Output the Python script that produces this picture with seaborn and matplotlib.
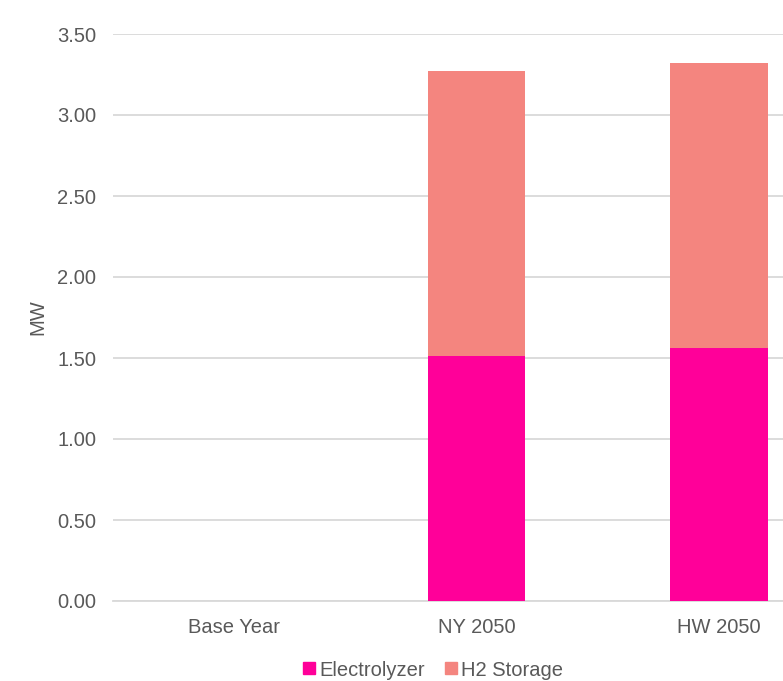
import matplotlib
matplotlib.use("Agg")
import matplotlib.pyplot as plt
from matplotlib.lines import Line2D
import seaborn as sns
import pandas as pd

categories = ["Base Year", "NY 2050", "HW 2050"]
electrolyzer = [0.0, 1.51, 1.56]
h2_storage = [0.0, 1.76, 1.76]
yticks = [0.0, 0.5, 1.0, 1.5, 2.0, 2.5, 3.0, 3.5]

c_elec = "#FF0099"
c_stor = "#F4857F"
txt = "#595959"
grid = "#D9D9D9"

sns.set_theme(style="white")
plt.rcParams["font.family"] = ["Liberation Sans", "DejaVu Sans"]

df = pd.DataFrame({
    "cat": categories,
    "elec": electrolyzer,
    "total": [e + s for e, s in zip(electrolyzer, h2_storage)],
})

fig = plt.figure(figsize=(7.83, 6.81), dpi=100)
ax = fig.add_axes([113 / 783, 1 - 601 / 681, 727 / 783, 567 / 681])

sns.barplot(data=df, x="cat", y="total", color=c_stor, width=0.404,
            saturation=1, ax=ax, zorder=2, linewidth=0)
sns.barplot(data=df, x="cat", y="elec", color=c_elec, width=0.404,
            saturation=1, ax=ax, zorder=3, linewidth=0)

ax.set_xlim(-0.5, 2.5)
ax.set_ylim(0, 3.5)
ax.set_yticks(yticks)
ax.set_yticklabels([f"{v:.2f}" for v in yticks])
ax.yaxis.grid(True, color=grid, linewidth=1.3, zorder=0)
ax.set_axisbelow(True)
for s in ["top", "right", "left"]:
    ax.spines[s].set_visible(False)
ax.spines["bottom"].set_color(grid)
ax.spines["bottom"].set_linewidth(1.3)
ax.tick_params(axis="both", length=0, labelsize=14.5, labelcolor=txt)
ax.tick_params(axis="y", pad=12)
ax.tick_params(axis="x", pad=12.5)
ax.set_xlabel("")
ax.set_ylabel("MW", fontsize=14.5, color=txt, labelpad=7)

handles = [
    Line2D([], [], marker="s", linestyle="none", markersize=9, color=c_elec, label="Electrolyzer"),
    Line2D([], [], marker="s", linestyle="none", markersize=9, color=c_stor, label="H2 Storage"),
]
fig.legend(handles=handles, loc="center", bbox_to_anchor=(433 / 783, 1 - 670 / 681),
           ncol=2, frameon=False, fontsize=14.5, labelcolor=txt,
           handlelength=0.6, handletextpad=0.2, columnspacing=1.0, borderpad=0)

fig.savefig("out.png", dpi=100)
